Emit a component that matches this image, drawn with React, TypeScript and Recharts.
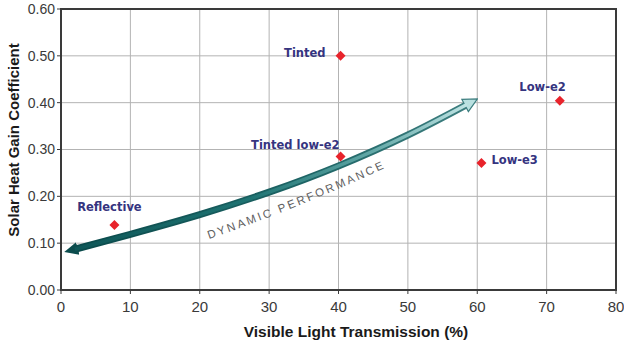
import React from 'react';
import {
  ComposedChart, XAxis, YAxis, CartesianGrid, Scatter, Line, ReferenceArea, ReferenceDot, Label,
} from 'recharts';

const glassNames = ['Reflective', 'Tinted', 'Tinted low-e2', 'Low-e3', 'Low-e2'];
const vltValues = [7.7, 40.3, 40.3, 60.6, 71.9];
const shgcValues = [0.139, 0.5, 0.285, 0.271, 0.404];

const curveVlt = [2, 10, 20, 30, 40, 50, 58.5];
const curveShgc = [0.087, 0.119, 0.161, 0.209, 0.265, 0.331, 0.396];

const xTicks = [0, 10, 20, 30, 40, 50, 60, 70, 80];
const yTicks = [0, 0.1, 0.2, 0.3, 0.4, 0.5, 0.6];

const curveCaption = 'DYNAMIC PERFORMANCE';
const captionAt = { x: 34.1, y: 0.186 };

const points = glassNames.map((name, i) => ({ name, x: vltValues[i], y: shgcValues[i] }));
const curve = curveVlt.map((x, i) => ({ x, y: curveShgc[i] }));

const labelPlacement: Record<string, { dx: number; dy: number; anchor: 'start' | 'middle' | 'end' }> = {
  Reflective: { dx: -5, dy: -14, anchor: 'middle' },
  Tinted: { dx: -15, dy: 1, anchor: 'end' },
  'Tinted low-e2': { dx: -1, dy: -8, anchor: 'end' },
  'Low-e3': { dx: 10, dy: 1, anchor: 'start' },
  'Low-e2': { dx: 6, dy: -10, anchor: 'end' },
};

const PointShape = (props: any) => {
  const { cx, cy, payload } = props;
  const p = labelPlacement[payload.name];
  const r = 5;
  return (
    <g>
      <polygon
        points={`${cx},${cy - r} ${cx + r},${cy} ${cx},${cy + r} ${cx - r},${cy}`}
        fill="#e8232b"
      />
      <text
        x={cx + p.dx}
        y={cy + p.dy}
        textAnchor={p.anchor}
        fontFamily="DejaVu Sans, Verdana, sans-serif"
        fontWeight="bold"
        fontSize={11.5}
        fill="#35347f"
      >
        {payload.name}
      </text>
    </g>
  );
};

const CaptionLabel = (props: any) => {
  const vb = props.viewBox || {};
  const cx = vb.x + (vb.width || 0) / 2;
  const cy = vb.y + (vb.height || 0) / 2;
  const d = `M${cx - 94},${cy + 38} Q${cx},${cy + 6} ${cx + 94},${cy - 38}`;
  return (
    <g>
      <path id="captionPath" d={d} fill="none" stroke="none" />
      <text
        fontFamily="Liberation Sans, Arial, sans-serif"
        fontSize={11.5}
        letterSpacing={2.4}
        fill="#606060"
      >
        <textPath href="#captionPath" startOffset="50%" textAnchor="middle">
          {curveCaption}
        </textPath>
      </text>
    </g>
  );
};

export default function App() {
  return (
    <div style={{ position: 'absolute', left: 0, top: 0, background: '#fff' }}>
      <ComposedChart
        width={624}
        height={346}
        margin={{ top: 9, right: 8, bottom: 0, left: 0 }}
      >
        <defs>
          <linearGradient id="outerGrad" x1="0" y1="0" x2="1" y2="0">
            <stop offset="0%" stopColor="#0a4a4b" />
            <stop offset="60%" stopColor="#1e6566" />
            <stop offset="100%" stopColor="#3d7e7f" />
          </linearGradient>
          <linearGradient id="innerGrad" x1="0" y1="0" x2="1" y2="0">
            <stop offset="0%" stopColor="#0e5657" />
            <stop offset="45%" stopColor="#1f7473" />
            <stop offset="75%" stopColor="#5fa6a5" />
            <stop offset="100%" stopColor="#bfe4e4" />
          </linearGradient>
          <marker
            id="arrowStart"
            markerUnits="userSpaceOnUse"
            viewBox="0 0 16 16"
            markerWidth={16}
            markerHeight={16}
            refX={3}
            refY={8}
            orient="auto-start-reverse"
          >
            <path d="M0,1.5 L14,8 L0,14.5 Z" fill="#0b4c4d" />
          </marker>
          <marker
            id="arrowEnd"
            markerUnits="userSpaceOnUse"
            viewBox="0 0 16 16"
            markerWidth={16}
            markerHeight={16}
            refX={3}
            refY={8}
            orient="auto-start-reverse"
          >
            <path d="M1,1 L15,8 L1,15 Z" fill="#b9e0e0" stroke="#3d7e7f" strokeWidth={1.2} />
          </marker>
        </defs>
        <CartesianGrid stroke="#b3b3b3" strokeWidth={1} />
        <XAxis
          type="number"
          dataKey="x"
          domain={[0, 80]}
          ticks={xTicks}
          interval={0}
          tickSize={4}
          tickMargin={7}
          height={56}
          stroke="#3a3a3a"
          strokeWidth={2}
          tick={{ fill: '#3a3a3a', fontSize: 15, fontFamily: 'Liberation Sans, Arial, sans-serif' }}
          tickLine={{ stroke: '#3a3a3a', strokeWidth: 1 }}
        >
          <Label
            content={() => (
              <text
                x={356}
                y={337}
                textAnchor="middle"
                fontFamily="Liberation Sans, Arial, sans-serif"
                fontWeight="bold"
                fontSize={15.5}
                fill="#1a1a1a"
              >
                Visible Light Transmission (%)
              </text>
            )}
          />
        </XAxis>
        <YAxis
          type="number"
          dataKey="y"
          domain={[0, 0.6]}
          ticks={yTicks}
          interval={0}
          width={61}
          tickSize={4}
          tickMargin={2}
          stroke="#3a3a3a"
          strokeWidth={2}
          tickFormatter={(v: number) => v.toFixed(2)}
          tick={{ fill: '#3a3a3a', fontSize: 14, fontFamily: 'Liberation Sans, Arial, sans-serif' }}
          tickLine={{ stroke: '#3a3a3a', strokeWidth: 1 }}
        >
          <Label
            content={() => (
              <text
                x={19}
                y={140}
                transform="rotate(-90 19 140)"
                textAnchor="middle"
                fontFamily="Liberation Sans, Arial, sans-serif"
                fontWeight="bold"
                fontSize={15}
                fill="#1a1a1a"
              >
                Solar Heat Gain Coefficient
              </text>
            )}
          />
        </YAxis>
        <ReferenceArea x1={0} x2={80} y1={0} y2={0.6} fill="none" stroke="#3a3a3a" strokeWidth={2} />
        <Line
          data={curve}
          dataKey="y"
          type="natural"
          stroke="url(#outerGrad)"
          strokeWidth={7}
          dot={false}
          activeDot={false}
          isAnimationActive={false}
          markerStart="url(#arrowStart)"
          markerEnd="url(#arrowEnd)"
        />
        <Line
          data={curve}
          dataKey="y"
          type="natural"
          stroke="url(#innerGrad)"
          strokeWidth={3.5}
          dot={false}
          activeDot={false}
          isAnimationActive={false}
        />
        <ReferenceDot
          x={captionAt.x}
          y={captionAt.y}
          r={0}
          fill="none"
          stroke="none"
          label={<CaptionLabel />}
        />
        <Scatter data={points} dataKey="y" shape={<PointShape />} isAnimationActive={false} />
      </ComposedChart>
    </div>
  );
}
